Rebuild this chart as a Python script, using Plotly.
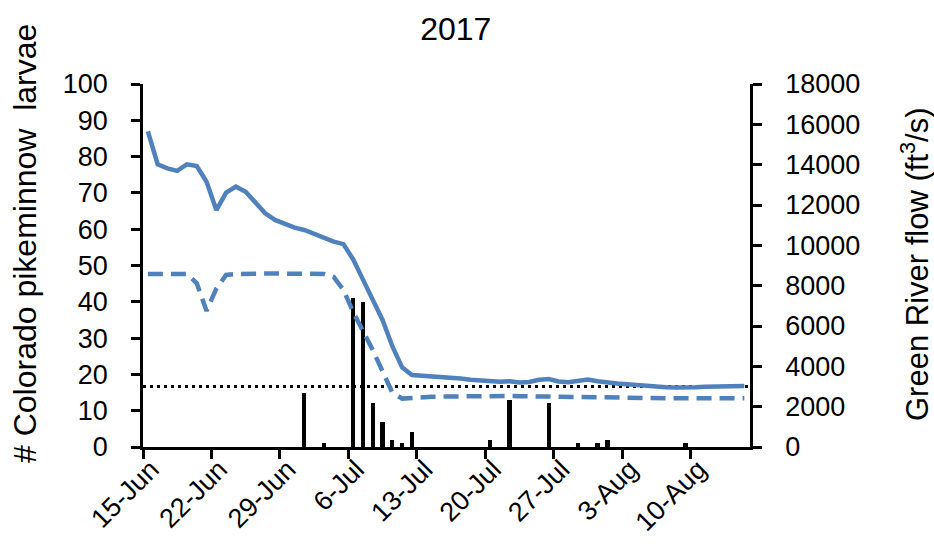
import plotly.graph_objects as go
import pandas as pd

# ---------------- data ----------------
flow_start = "2017-06-15"
# Green River daily flow (ft3/s), solid line, 15-Jun .. 15-Aug
flow_solid = [15650, 14020, 13820, 13690, 14020, 13930, 13150, 11750, 12610, 12910,
              12660, 12110, 11590, 11260, 11040, 10880, 10760, 10550, 10350, 10180,
              10060, 9300, 8300, 7300, 6300, 5000, 3950, 3570, 3540, 3530,
              3500, 3470, 3400, 3330, 3290, 3260, 3240, 3260, 3200, 3220,
              3330, 3370, 3250, 3210, 3300, 3350, 3260, 3190, 3150, 3110,
              3060, 3030, 2990, 2960, 2950, 2940, 2960, 2990, 3010, 3020,
              3020, 3020]
# second flow series, dashed line
flow_dashed = [8580, 8580, 8580, 8580, 8580, 8120, 6750, 7850, 8530, 8580,
               8600, 8600, 8600, 8600, 8600, 8600, 8600, 8600, 8580, 8430,
               7790, 6690, 5750, 4810, 3750, 2700, 2400, 2440, 2470, 2490,
               2500, 2510, 2510, 2520, 2520, 2520, 2530, 2530, 2520, 2510,
               2500, 2490, 2480, 2470, 2460, 2460, 2450, 2450, 2440, 2440,
               2430, 2430, 2430, 2420, 2420, 2420, 2420, 2420, 2420, 2420,
               2420, 2420]
# larvae counts
larvae_dates = ["2017-07-01", "2017-07-03", "2017-07-06", "2017-07-07", "2017-07-08",
                "2017-07-09", "2017-07-10", "2017-07-11", "2017-07-12", "2017-07-20",
                "2017-07-22", "2017-07-26", "2017-07-29", "2017-07-31", "2017-08-01",
                "2017-08-09"]
larvae_counts = [15, 1, 41, 40, 12, 7, 2, 1, 4, 2, 13, 12, 1, 1, 2, 1]
threshold_flow = 3000
tick_dates = pd.date_range("2017-06-15", periods=9, freq="7D")
tick_text = ["15-Jun", "22-Jun", "29-Jun", "6-Jul", "13-Jul", "20-Jul", "27-Jul", "3-Aug", "10-Aug"]
x_range = ["2017-06-15 00:00", "2017-08-16 02:00"]

# ---------------- figure ----------------
half_day = pd.Timedelta(hours=12)
flow_x = pd.date_range(flow_start, periods=len(flow_solid), freq="D") + half_day
larv_x = pd.to_datetime(larvae_dates) + half_day

FONT = "Liberation Sans, Arial, sans-serif"
BLUE = "#4F81BD"

fig = go.Figure()
fig.add_trace(go.Bar(x=larv_x, y=larvae_counts, marker=dict(color="black", line=dict(width=0)),
                     width=0.44 * 86400000, yaxis="y", showlegend=False))
fig.add_trace(go.Scatter(x=x_range, y=[threshold_flow, threshold_flow], mode="lines",
                         line=dict(color="black", width=3, dash="3px,4px"), yaxis="y2",
                         showlegend=False))
fig.add_trace(go.Scatter(x=flow_x, y=flow_dashed, mode="lines",
                         line=dict(color=BLUE, width=4.5, dash="15px,8px"), yaxis="y2",
                         showlegend=False))
fig.add_trace(go.Scatter(x=flow_x, y=flow_solid, mode="lines",
                         line=dict(color=BLUE, width=4.5), yaxis="y2", showlegend=False))

# plot area in pixels: x 143..750, y 84..447
PL, PR, PT, PB = 143, 750, 84, 447
def px_x(p):
    return (p - PL) / (PR - PL)
def px_y(p):
    return (PB - p) / (PB - PT)

fig.update_layout(
    width=934, height=555,
    margin=dict(l=PL, r=934 - PR, t=PT, b=555 - PB, pad=0, autoexpand=False),
    paper_bgcolor="white", plot_bgcolor="white",
    font=dict(family=FONT, color="black", size=27),
    title=dict(text="2017", x=0.488, xref="container", xanchor="center",
               y=1 - 29 / 555, yref="container", yanchor="middle",
               font=dict(size=32, family=FONT, color="black")),
    bargap=0,
    xaxis=dict(type="date", range=x_range, tickmode="array", tickvals=tick_dates, ticktext=tick_text,
               tickangle=-45, ticks="outside", ticklen=9, tickwidth=2.5, tickcolor="black",
               showline=True, linecolor="black", linewidth=2.5, showgrid=False, zeroline=False,
               automargin=False, ticklabelstandoff=-16, ticklabelshift=8,
               tickfont=dict(size=27, family=FONT)),
    yaxis=dict(range=[0, 100], dtick=10, ticks="outside", ticklen=9, tickwidth=2.5, tickcolor="black",
               showline=True, linecolor="black", linewidth=2.5, showgrid=False, zeroline=False,
               automargin=False, ticklabelstandoff=18, tickfont=dict(size=27, family=FONT)),
    yaxis2=dict(range=[0, 18000], dtick=2000, tickformat="d", overlaying="y", side="right",
                ticks="outside", ticklen=9, tickwidth=2.5, tickcolor="black",
                showline=True, linecolor="black", linewidth=2.5, showgrid=False, zeroline=False,
                automargin=False, ticklabelstandoff=18, tickfont=dict(size=27, family=FONT)),
    annotations=[
        dict(text="# Colorado pikeminnow  larvae", textangle=-90, xref="paper", yref="paper",
             x=px_x(25), y=px_y(244), xanchor="center", yanchor="middle", showarrow=False,
             font=dict(size=32, family=FONT, color="black")),
        dict(text="Green River flow (ft<sup>3</sup>/s)", textangle=-90, xref="paper", yref="paper",
             x=px_x(915), y=px_y(264), xanchor="center", yanchor="middle", showarrow=False,
             font=dict(size=31, family=FONT, color="black")),
    ],
)

fig.write_html("out.html", config={"displayModeBar": False},
               post_script="document.body.style.margin='0';")
